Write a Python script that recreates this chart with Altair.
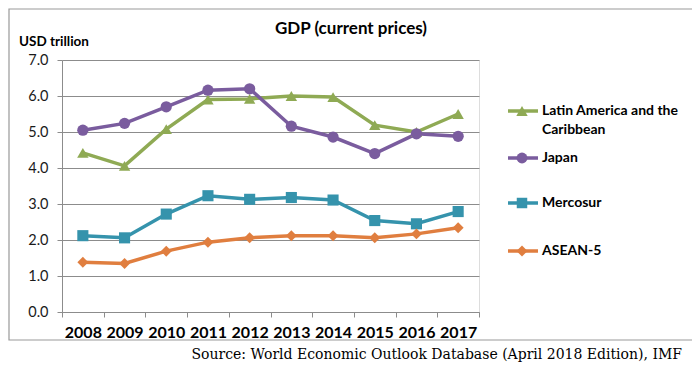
import altair as alt
import pandas as pd

years = ["2008", "2009", "2010", "2011", "2012", "2013", "2014", "2015", "2016", "2017"]
latin = [4.42, 4.06, 5.08, 5.90, 5.92, 6.00, 5.97, 5.19, 5.00, 5.50]
japan = [5.05, 5.24, 5.70, 6.16, 6.20, 5.16, 4.86, 4.40, 4.95, 4.88]
mercosur = [2.12, 2.06, 2.72, 3.23, 3.13, 3.18, 3.11, 2.54, 2.45, 2.79]
asean = [1.38, 1.35, 1.69, 1.94, 2.06, 2.12, 2.12, 2.06, 2.17, 2.34]
y_ticks = [0, 1, 2, 3, 4, 5, 6, 7]

series_names = ["Latin America and the Caribbean", "Japan", "Mercosur", "ASEAN-5"]
series_values = [latin, japan, mercosur, asean]
colors = ["#8FAA54", "#7A5C9E", "#3593AC", "#E07E3F"]
shapes = ["triangle-up", "circle", "square", "diamond"]
sizes = [130, 120, 110, 120]

rows = []
for name, vals in zip(series_names, series_values):
    for y, v in zip(years, vals):
        rows.append({"year": y, "value": v, "series": name})
df = pd.DataFrame(rows)

FONT = "Lato"
W, H = 417, 252

x_enc = alt.X("year:O", sort=years,
              scale=alt.Scale(type="band", paddingInner=0, paddingOuter=0),
              axis=alt.Axis(title=None, tickBand="extent", grid=False,
                            domainColor="#8c8c8c", tickColor="#8c8c8c", tickSize=5,
                            labelFont=FONT, labelFontSize=16, labelFontWeight="bold",
                            labelColor="#000000", labelPadding=7, labelAngle=0,
                            labelOverlap=False))
y_enc = alt.Y("value:Q", scale=alt.Scale(domain=[0, 7], nice=False, zero=True),
              axis=alt.Axis(title=None, values=y_ticks, format=".1f", tickCount=8,
                            grid=True, gridColor="#8c8c8c", gridWidth=1,
                            domainColor="#8c8c8c", tickColor="#8c8c8c", tickSize=5,
                            labelFont=FONT, labelFontSize=14.5, labelColor="#1a1a1a",
                            labelPadding=9, labelOverlap=False, labelFlush=False))

color_scale = alt.Scale(domain=series_names, range=colors)
shape_scale = alt.Scale(domain=series_names, range=shapes)
size_scale = alt.Scale(domain=series_names, range=sizes)

base = alt.Chart(df)
lines = base.mark_line(strokeWidth=3.5).encode(
    x=x_enc, y=y_enc,
    color=alt.Color("series:N", scale=color_scale, legend=None),
    detail="series:N",
)
points = base.mark_point(filled=True, opacity=1).encode(
    x=x_enc, y=y_enc,
    color=alt.Color("series:N", scale=color_scale, legend=None),
    shape=alt.Shape("series:N", scale=shape_scale, legend=None),
    size=alt.Size("series:N", scale=size_scale, legend=None),
)

one = alt.Data(values=[{"a": 1}])
layers = [lines, points]

# legend (manual)
leg_rows = [
    (series_names[0], ["Latin America and the", "Caribbean"], 51),
    (series_names[1], ["Japan"], 98),
    (series_names[2], ["Mercosur"], 143),
    (series_names[3], ["ASEAN-5"], 191),
]
for i, (name, label_lines, ly) in enumerate(leg_rows):
    layers.append(alt.Chart(one).mark_rule(color=colors[i], strokeWidth=3.5).encode(
        x=alt.value(446), x2=alt.value(476), y=alt.value(ly)))
    layers.append(alt.Chart(one).mark_point(filled=True, opacity=1, shape=shapes[i],
                                            size=sizes[i], color=colors[i]).encode(
        x=alt.value(460), y=alt.value(ly)))
    for j, t in enumerate(label_lines):
        layers.append(alt.Chart(one).mark_text(text=t, align="left", baseline="middle",
                                               font=FONT, fontSize=14, fontWeight="bold",
                                               color="#000000").encode(
            x=alt.value(480), y=alt.value(ly + 19 * j)))

# title, axis title, source
layers.append(alt.Chart(one).mark_text(text="GDP (current prices)", align="center",
                                       baseline="middle", font=FONT, fontSize=17,
                                       fontWeight="bold", color="#000000").encode(
    x=alt.value(289), y=alt.value(-31)))
layers.append(alt.Chart(one).mark_text(text="USD trillion", align="left",
                                       baseline="middle", font=FONT, fontSize=13.5,
                                       fontWeight="bold", color="#000000").encode(
    x=alt.value(-43), y=alt.value(-18)))
layers.append(alt.Chart(one).mark_text(
    text="Source: World Economic Outlook Database (April 2018 Edition), IMF",
    align="right", baseline="middle", font="DejaVu Serif", fontSize=14,
    color="#000000").encode(x=alt.value(620), y=alt.value(295)))
# border
layers.append(alt.Chart(one).mark_rect(fill=None, stroke="#999999", strokeWidth=1.2).encode(
    x=alt.value(-53), x2=alt.value(633), y=alt.value(-51), y2=alt.value(280)))

chart = alt.layer(*layers).properties(
    width=W, height=H,
    padding={"left": 54, "top": 52, "right": 213, "bottom": 53},
    autosize=alt.AutoSizeParams(type="none"),
).configure_view(stroke=None).configure(background="white")

chart.save("out.html", embed_options={"renderer": "svg", "actions": False})
